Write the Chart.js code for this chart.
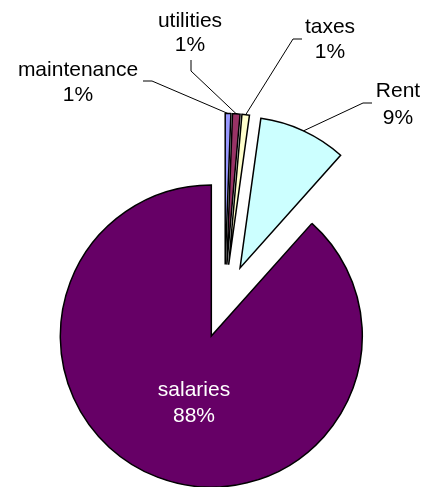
<!DOCTYPE html>
<html><head><meta charset="utf-8">
<script src="https://cdn.jsdelivr.net/npm/chart.js@4/dist/chart.umd.min.js"></script>
<style>html,body{margin:0;padding:0;background:#fff}#wrap{width:425px;height:487px;position:relative}</style>
</head><body><div id="wrap"><canvas id="c"></canvas></div>
<script>
const categories = ['maintenance', 'utilities', 'taxes', 'Rent', 'salaries'];
const values = [0.6, 0.8, 0.8, 9.4, 88.4];
const sliceColors = ['#9999FF', '#993366', '#FFFFCC', '#CCFFFF', '#660066'];

// label placement (text centre x, first baseline y, line height, leader elbow points)
const labelLayout = [
  {x: 78,  y: 76,  lh: 25, color: '#000', leader: [[143, 81], [152, 81]]},
  {x: 190, y: 27,  lh: 24, color: '#000', leader: [[191, 60], [191, 71]]},
  {x: 330, y: 33,  lh: 25, color: '#000', leader: [[302, 39], [293, 39]]},
  {x: 398, y: 97,  lh: 27, color: '#000', leader: [[372, 103], [363, 103]]},
  {x: 194, y: 396, lh: 26, color: '#fff', leader: null}
];
const RADIUS = 151, EXPLODE = 37;
const FONT = '21px "Liberation Sans", Arial, sans-serif';

// explode every slice outward along its mid angle
const explode = {
  id: 'explode',
  beforeDatasetsDraw(chart) {
    const a = chart.chartArea;
    const bx = (a.left + a.right) / 2, by = (a.top + a.bottom) / 2;
    chart.getDatasetMeta(0).data.forEach(arc => {
      const mid = (arc.startAngle + arc.endAngle) / 2;
      arc.x = bx + Math.cos(mid) * EXPLODE;
      arc.y = by + Math.sin(mid) * EXPLODE;
      arc.outerRadius = RADIUS;
    });
  }
};

const sliceLabels = {
  id: 'sliceLabels',
  afterDatasetsDraw(chart) {
    const ctx = chart.ctx;
    const meta = chart.getDatasetMeta(0);
    const total = values.reduce((a, b) => a + b, 0);
    ctx.save();
    ctx.font = FONT;
    ctx.textAlign = 'center';
    ctx.textBaseline = 'alphabetic';
    meta.data.forEach((arc, i) => {
      const mid = (arc.startAngle + arc.endAngle) / 2;
      const ex = arc.x + Math.cos(mid) * arc.outerRadius;
      const ey = arc.y + Math.sin(mid) * arc.outerRadius;
      const L = labelLayout[i];
      if (L.leader) {
        ctx.beginPath();
        ctx.strokeStyle = '#000';
        ctx.lineWidth = 1;
        ctx.moveTo(L.leader[0][0], L.leader[0][1]);
        ctx.lineTo(L.leader[1][0], L.leader[1][1]);
        ctx.lineTo(ex, ey);
        ctx.stroke();
      }
      ctx.fillStyle = L.color;
      ctx.fillText(categories[i], L.x, L.y);
      ctx.fillText(Math.round(values[i] / total * 100) + '%', L.x, L.y + L.lh);
    });
    ctx.restore();
  }
};

new Chart(document.getElementById('c'), {
  type: 'pie',
  data: {
    labels: categories,
    datasets: [{
      data: values,
      backgroundColor: sliceColors,
      borderColor: '#000',
      borderWidth: 1.5,
      borderJoinStyle: 'miter',
      offset: 0,
      hoverOffset: 0
    }]
  },
  options: {
    responsive: true,
    maintainAspectRatio: false,
    animation: false,
    events: [],
    radius: RADIUS,
    layout: {padding: {left: 24, top: 116, right: 0, bottom: 0}},
    plugins: {legend: {display: false}, tooltip: {enabled: false}}
  },
  plugins: [explode, sliceLabels]
});
</script>
</body></html>
